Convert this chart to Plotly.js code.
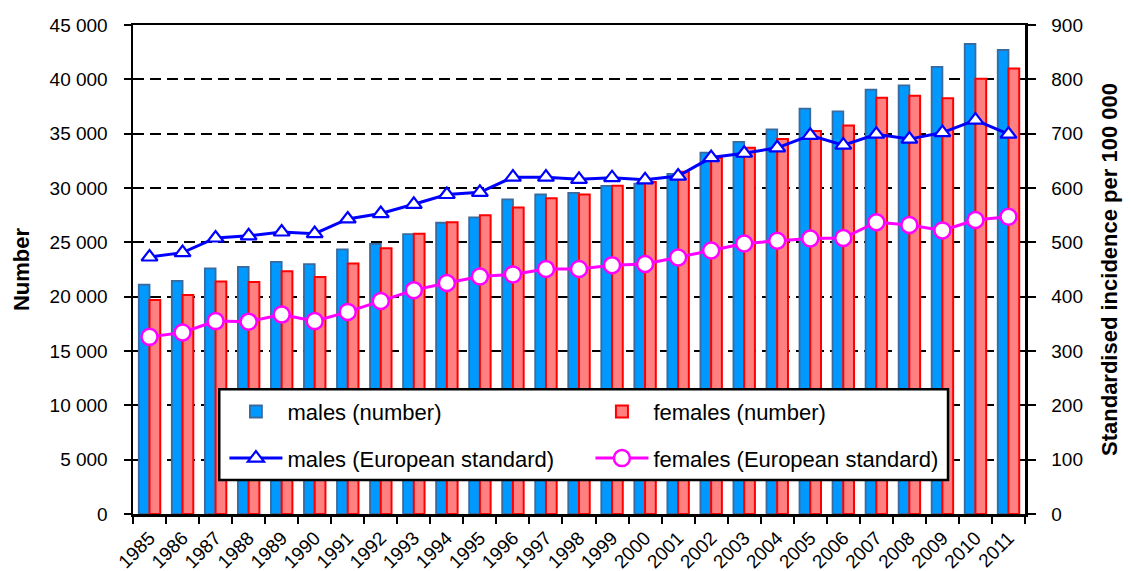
<!DOCTYPE html>
<html>
<head>
<meta charset="utf-8">
<script src="https://cdn.plot.ly/plotly-3.0.1.min.js"></script>
<style>html,body{margin:0;padding:0;background:#fff;}#chart{width:1131px;height:571px;}</style>
</head>
<body>
<div id="chart"></div>
<script>
const years = ['1985','1986','1987','1988','1989','1990','1991','1992','1993','1994','1995','1996','1997','1998','1999','2000','2001','2002','2003','2004','2005','2006','2007','2008','2009','2010','2011'];
const malesNumber = [21100,21450,22600,22750,23200,23000,24350,24850,25750,26800,27300,28950,29400,29550,30200,30400,31300,33250,34250,35400,37300,37050,39050,39450,41150,43250,42700];
const femalesNumber = [19700,20150,21400,21350,22350,21800,23050,24450,25800,26850,27500,28200,29050,29400,30200,30550,31500,32750,33700,34500,35250,35750,38300,38500,38250,40050,41000];
const malesEuro = [473,481,508,512,519,516,543,553,570,588,592,620,620,616,619,615,622,656,664,674,697,679,699,690,702,725,699];
const femalesEuro = [326,334,355,354,367,355,372,392,412,425,437,441,451,451,458,460,472,485,498,503,507,508,537,532,522,541,547];

const F = '"Liberation Sans", Arial, sans-serif';

const traces = [
  {type:'bar', x:years, y:malesNumber, name:'males (number)', legend:'legend',
   marker:{color:'#0099FF', line:{color:'#3A6A9E', width:1.8}}},
  {type:'bar', x:years, y:femalesNumber, name:'females (number)', legend:'legend',
   marker:{color:'#FF8080', line:{color:'#FF0000', width:2}}},
  {type:'scatter', mode:'lines+markers', x:years, y:malesEuro, yaxis:'y2', name:'males (European standard)', legend:'legend2',
   line:{color:'#0000FF', width:3}, marker:{symbol:'triangle-up', size:14, color:'#FFFFFF', line:{color:'#0000FF', width:2.2}}},
  {type:'scatter', mode:'lines+markers', x:years, y:femalesEuro, yaxis:'y2', name:'females (European standard)', legend:'legend2',
   line:{color:'#FF00FF', width:3}, marker:{symbol:'circle', size:16, color:'#FFFFFF', line:{color:'#FF00FF', width:2.5}}}
];

const legendCommon = {orientation:'h', xanchor:'left', yanchor:'middle', bgcolor:'rgba(0,0,0,0)', borderwidth:0,
  font:{family:F, size:22, color:'#000'}, itemwidth:53, entrywidth:298, entrywidthmode:'pixels', traceorder:'normal'};

const layout = {
  width:1131, height:571,
  margin:{l:133, r:106, t:25, b:57, autoexpand:false},
  paper_bgcolor:'#fff', plot_bgcolor:'#fff',
  separators:'. ',
  barmode:'group', bargap:0.35, bargroupgap:0,
  font:{family:F, color:'#000'},
  xaxis:{type:'category', range:[-0.5, years.length - 0.5], tickson:'boundaries', ticks:'outside', ticklen:7, tickwidth:2, tickcolor:'#000',
    showline:true, linecolor:'#000', linewidth:2.5, mirror:true, showgrid:false, tickangle:-45, ticklabelstandoff:3,
    tickfont:{family:F, size:19, color:'#000'}, automargin:false},
  yaxis:{range:[0,45000], dtick:5000, tick0:0, exponentformat:'none', separatethousands:true,
    ticks:'outside', ticklen:7, tickwidth:2, tickcolor:'#000', ticklabelstandoff:12,
    showline:true, linecolor:'#000', linewidth:2.5, zeroline:false,
    showgrid:true, gridcolor:'#000', gridwidth:2, griddash:'11px,6px',
    tickfont:{family:F, size:19, color:'#000'}, automargin:false,
    title:{text:'Number', font:{family:F, size:22, color:'#000', weight:'bold'}, standoff:14}},
  yaxis2:{overlaying:'y', side:'right', range:[0,900], dtick:100, tick0:0,
    ticks:'outside', ticklen:8, tickwidth:2, tickcolor:'#000', ticklabelstandoff:12,
    showline:true, linecolor:'#000', linewidth:2.5, zeroline:false, showgrid:false,
    tickfont:{family:F, size:19, color:'#000'}, automargin:false,
    title:{text:'Standardised incidence per 100 000', font:{family:F, size:22, color:'#000', weight:'bold'}, standoff:20}},
  showlegend:true,
  legend:Object.assign({}, legendCommon, {x:0.1025, y:0.2092}),
  legend2:Object.assign({}, legendCommon, {x:0.1025, y:0.1139}),
  shapes:[{type:'rect', xref:'paper', yref:'paper', x0:0.0967, x1:0.9137, y0:0.0695, y1:0.255,
    fillcolor:'#FFFFFF', line:{color:'#000', width:2.5}, layer:'above'}]
};

Plotly.newPlot('chart', traces, layout, {displayModeBar:false, staticPlot:true});
</script>
</body>
</html>
